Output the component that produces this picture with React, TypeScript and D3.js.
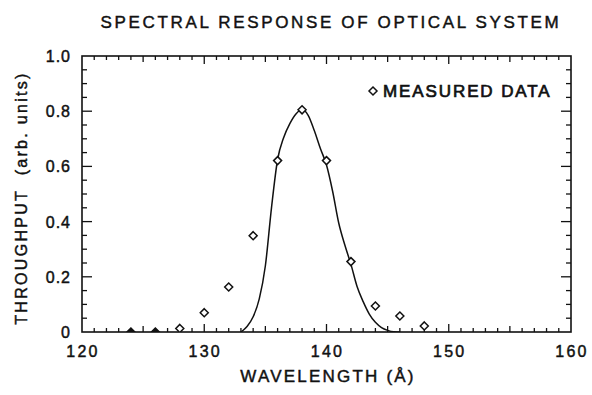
import { useEffect, useRef } from 'react';
import * as d3 from 'd3';

// measured throughput (diamonds)
const measuredWl = [124, 126, 128, 130, 132, 134, 136, 138, 140, 142, 144, 146, 148];
const measuredVal = [0, 0, 0.013, 0.07, 0.163, 0.349, 0.621, 0.805, 0.621, 0.255, 0.094, 0.058, 0.022];

// fitted response curve
const curveWl = [133, 133.5, 134, 134.5, 135, 135.5, 136, 136.5, 137, 137.5, 138, 138.5, 139, 139.5, 140, 140.5, 141, 141.5, 142, 142.5, 143, 143.5, 144, 144.5, 145, 145.5, 146];
const curveVal = [0, 0.02, 0.055, 0.12, 0.24, 0.45, 0.625, 0.705, 0.755, 0.79, 0.806, 0.785, 0.73, 0.665, 0.605, 0.51, 0.395, 0.315, 0.245, 0.165, 0.11, 0.065, 0.035, 0.016, 0.006, 0.001, 0];

const xTicks = [120, 130, 140, 150, 160];
const yTicks = [0, 0.2, 0.4, 0.6, 0.8, 1.0];

const W = 592, H = 395;
const FONT = '"Liberation Sans", Arial, sans-serif';
const ink = '#111';

export default function App() {
  const ref = useRef<SVGSVGElement>(null);

  useEffect(() => {
    const svg = d3.select(ref.current);
    svg.selectAll('*').remove();

    const left = 82, right = 571, top = 56, bottom = 332;
    const x = d3.scaleLinear().domain([120, 160]).range([left, right]);
    const y = d3.scaleLinear().domain([0, 1]).range([bottom, top]);

    svg.append('rect').attr('width', W).attr('height', H).attr('fill', '#fff');

    svg.append('defs').append('clipPath').attr('id', 'plot')
      .append('rect').attr('x', left).attr('y', top).attr('width', right - left).attr('height', bottom - top);

    // lettering helper, slightly heavier strokes like the original plot lettering
    const label = (sel: d3.Selection<any, any, any, any>, size: number, spacing: number) =>
      sel.attr('font-family', FONT).attr('font-size', size).attr('letter-spacing', spacing)
        .attr('fill', ink).attr('stroke', ink).attr('stroke-width', 0.45);

    // frame
    svg.append('rect').attr('x', left).attr('y', top)
      .attr('width', right - left).attr('height', bottom - top)
      .attr('fill', 'none').attr('stroke', ink).attr('stroke-width', 1.6);

    // x ticks (inward, top and bottom)
    const ticks = svg.append('g').attr('stroke', ink).attr('stroke-width', 1.3);
    d3.range(121, 160, 1).forEach(v => {
      const len = v % 10 === 0 ? 8 : v % 5 === 0 ? 6 : 4;
      ticks.append('line').attr('x1', x(v)).attr('x2', x(v)).attr('y1', bottom).attr('y2', bottom - len);
      ticks.append('line').attr('x1', x(v)).attr('x2', x(v)).attr('y1', top).attr('y2', top + len);
    });

    // y ticks (inward, left and right)
    d3.range(1, 20).forEach(i => {
      const v = i * 0.05;
      const len = i % 4 === 0 ? 10 : 5;
      ticks.append('line').attr('x1', left).attr('x2', left + len).attr('y1', y(v)).attr('y2', y(v));
      ticks.append('line').attr('x1', right).attr('x2', right - len).attr('y1', y(v)).attr('y2', y(v));
    });

    // tick labels
    label(svg.append('g').selectAll('text').data(xTicks).join('text'), 16, 2.2)
      .attr('x', d => x(d) + 1).attr('y', bottom + 25)
      .attr('text-anchor', 'middle')
      .text(d => String(d));

    label(svg.append('g').selectAll('text').data(yTicks).join('text'), 16, 1)
      .attr('x', left - 11).attr('y', d => y(d) + 6)
      .attr('text-anchor', 'end')
      .text(d => d === 0 ? '0' : d.toFixed(1));

    // curve
    const pts = curveWl.map((w, i) => [w, curveVal[i]] as [number, number]);
    const line = d3.line<[number, number]>().x(d => x(d[0])).y(d => y(d[1])).curve(d3.curveMonotoneX);
    svg.append('path').attr('d', line(pts))
      .attr('fill', 'none').attr('stroke', ink).attr('stroke-width', 1.5)
      .attr('clip-path', 'url(#plot)');

    // measured diamonds
    const r = 4;
    const diamond = (cx: number, cy: number) =>
      `M${cx},${cy - r}L${cx + r},${cy}L${cx},${cy + r}L${cx - r},${cy}Z`;
    svg.append('g').attr('clip-path', 'url(#plot)').selectAll('path')
      .data(measuredWl.map((w, i) => [w, measuredVal[i]]))
      .join('path')
      .attr('d', d => diamond(x(d[0]), y(d[1])))
      .attr('fill', d => d[1] === 0 ? ink : '#fff')
      .attr('stroke', ink).attr('stroke-width', 1.5);

    // legend
    svg.append('path').attr('d', diamond(373, 91))
      .attr('fill', '#fff').attr('stroke', ink).attr('stroke-width', 1.5);
    label(svg.append('text'), 17, 1.9)
      .attr('x', 383).attr('y', 97)
      .attr('stroke-width', 0.7)
      .text('MEASURED DATA');

    // title
    label(svg.append('text'), 17, 2.65)
      .attr('x', 331).attr('y', 28)
      .attr('text-anchor', 'middle')
      .text('SPECTRAL RESPONSE OF OPTICAL SYSTEM');

    // axis titles
    label(svg.append('text'), 17, 2.2)
      .attr('x', 328).attr('y', 382)
      .attr('text-anchor', 'middle')
      .text('WAVELENGTH (Å)');

    label(svg.append('text'), 16, 2.3)
      .attr('transform', `translate(27,${(top + bottom) / 2 + 4}) rotate(-90)`)
      .attr('text-anchor', 'middle')
      .text('THROUGHPUT\u00a0\u00a0(arb. units)');
  }, []);

  return (
    <svg ref={ref} width={W} height={H}
      style={{ position: 'absolute', left: 0, top: 0, display: 'block' }} />
  );
}
